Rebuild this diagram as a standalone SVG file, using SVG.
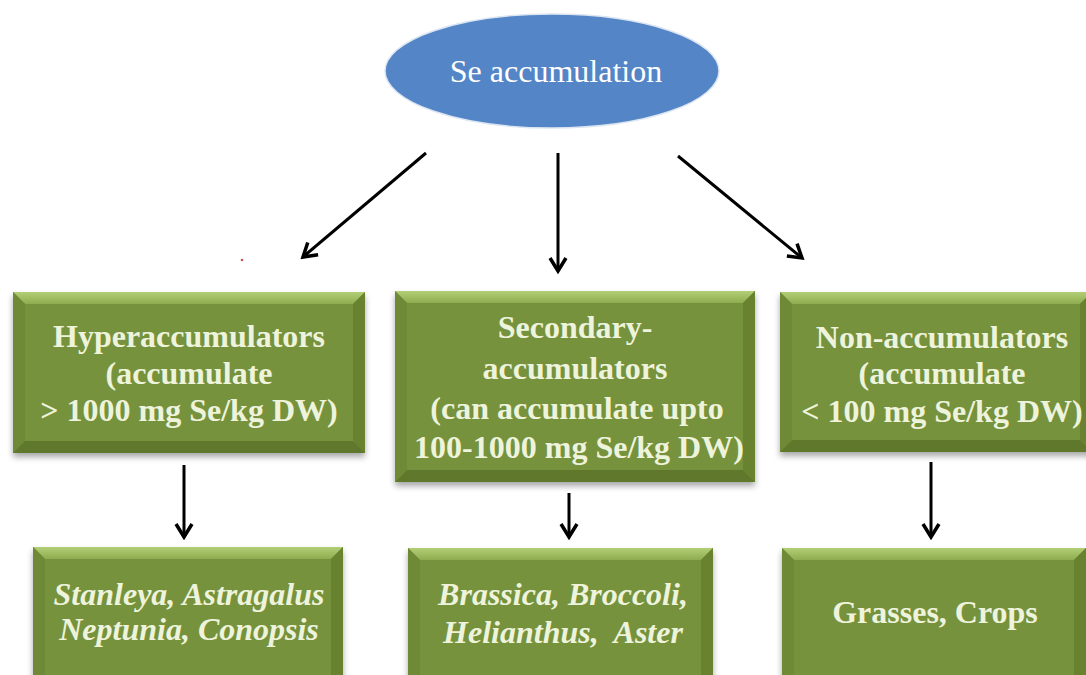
<svg xmlns="http://www.w3.org/2000/svg" width="1086" height="675" viewBox="0 0 1086 675">
<style>
.face{fill:#76923C}
.top{fill:url(#gTop)}
.lft{fill:#6E8A37}
.rgt{fill:#68822F}
.bot{fill:#5F782B}
.t{font-family:'Liberation Serif';font-size:32px;font-weight:bold;fill:#EEF3DC;text-anchor:middle}
.i{font-style:italic}
.e{font-family:'Liberation Serif';font-size:32px;fill:#FFFFFF;text-anchor:middle}
.c{stroke:#000;stroke-width:3;fill:none;marker-end:url(#arr)}
</style>
<defs>
<linearGradient id="gTop" x1="0" y1="0" x2="0" y2="1">
<stop offset="0" stop-color="#B3CF76"/>
<stop offset="1" stop-color="#8EAC4F"/>
</linearGradient>
<filter id="sh" x="-10%" y="-10%" width="120%" height="130%">
<feDropShadow dx="0" dy="4" stdDeviation="3" flood-color="#000" flood-opacity="0.35"/>
</filter>
<marker id="arr" viewBox="0 0 20 20" refX="17" refY="10" markerWidth="20" markerHeight="20" markerUnits="userSpaceOnUse" orient="auto">
<path d="M4,2 L17,10 L4,18" stroke="#000" stroke-width="3.5" fill="none"/>
</marker>
</defs>
<rect width="1086" height="675" fill="#FFFFFF"/>

<g id="se-accumulation">
<ellipse cx="552" cy="71" rx="167" ry="57" fill="#5485C6" stroke="#DCE6F2" stroke-width="1.5"/>
<text class="e" x="556" y="82">Se accumulation</text>
</g>

<g id="hyperaccumulators">
<g filter="url(#sh)"><rect class="face" x="13" y="292" width="352" height="161"/></g>
<polygon class="top" points="13,292 365,292 353,304 25,304"/>
<polygon class="lft" points="13,292 25,304 25,441 13,453"/>
<polygon class="rgt" points="365,292 365,453 353,441 353,304"/>
<polygon class="bot" points="13,453 25,441 353,441 365,453"/>
<text class="t" x="189" y="347">Hyperaccumulators</text>
<text class="t" x="189" y="384">(accumulate</text>
<text class="t" x="189" y="421">&gt; 1000 mg Se/kg DW)</text>
</g>

<g id="secondary-accumulators">
<g filter="url(#sh)"><rect class="face" x="395" y="291" width="360" height="191"/></g>
<polygon class="top" points="395,291 755,291 743,303 407,303"/>
<polygon class="lft" points="395,291 407,303 407,470 395,482"/>
<polygon class="rgt" points="755,291 755,482 743,470 743,303"/>
<polygon class="bot" points="395,482 407,470 743,470 755,482"/>
<text class="t" x="575" y="338">Secondary-</text>
<text class="t" x="575" y="379">accumulators</text>
<text class="t" x="577" y="419">(can accumulate upto</text>
<text class="t" x="579" y="458">100-1000 mg Se/kg DW)</text>
</g>

<g id="non-accumulators">
<g filter="url(#sh)"><rect class="face" x="780" y="292" width="312" height="160"/></g>
<polygon class="top" points="780,292 1092,292 1080,304 792,304"/>
<polygon class="lft" points="780,292 792,304 792,440 780,452"/>
<polygon class="rgt" points="1092,292 1092,452 1080,440 1080,304"/>
<polygon class="bot" points="780,452 792,440 1080,440 1092,452"/>
<text class="t" x="942" y="348">Non-accumulators</text>
<text class="t" x="942" y="384">(accumulate</text>
<text class="t" x="942" y="422">&lt; 100 mg Se/kg DW)</text>
</g>

<g id="hyper-examples">
<g filter="url(#sh)"><rect class="face" x="33" y="547" width="310" height="143"/></g>
<polygon class="top" points="33,547 343,547 331,559 45,559"/>
<polygon class="lft" points="33,547 45,559 45,678 33,690"/>
<polygon class="rgt" points="343,547 343,690 331,678 331,559"/>
<text class="t i" x="189" y="605">Stanleya, Astragalus</text>
<text class="t i" x="189" y="640">Neptunia, Conopsis</text>
</g>

<g id="secondary-examples">
<g filter="url(#sh)"><rect class="face" x="408" y="548" width="305" height="142"/></g>
<polygon class="top" points="408,548 713,548 701,560 420,560"/>
<polygon class="lft" points="408,548 420,560 420,678 408,690"/>
<polygon class="rgt" points="713,548 713,690 701,678 701,560"/>
<text class="t i" x="563" y="605">Brassica, Broccoli,</text>
<text class="t i" x="563" y="643" style="white-space:pre">Helianthus,  Aster</text>
</g>

<g id="non-examples">
<g filter="url(#sh)"><rect class="face" x="782" y="548" width="304" height="142"/></g>
<polygon class="top" points="782,548 1086,548 1074,560 794,560"/>
<polygon class="lft" points="782,548 794,560 794,678 782,690"/>
<polygon class="rgt" points="1086,548 1086,690 1074,678 1074,560"/>
<text class="t" x="935" y="623">Grasses, Crops</text>
</g>

<circle cx="242" cy="260" r="1.3" fill="#D05050"/>

<g id="connectors">
<line class="c" x1="426" y1="153" x2="303" y2="257"/>
<line class="c" x1="558" y1="153" x2="558" y2="271"/>
<line class="c" x1="678" y1="156" x2="802" y2="258"/>
<line class="c" x1="184" y1="465" x2="184" y2="537"/>
<line class="c" x1="569" y1="493" x2="569" y2="537"/>
<line class="c" x1="931" y1="462" x2="931" y2="537"/>
</g>
</svg>
